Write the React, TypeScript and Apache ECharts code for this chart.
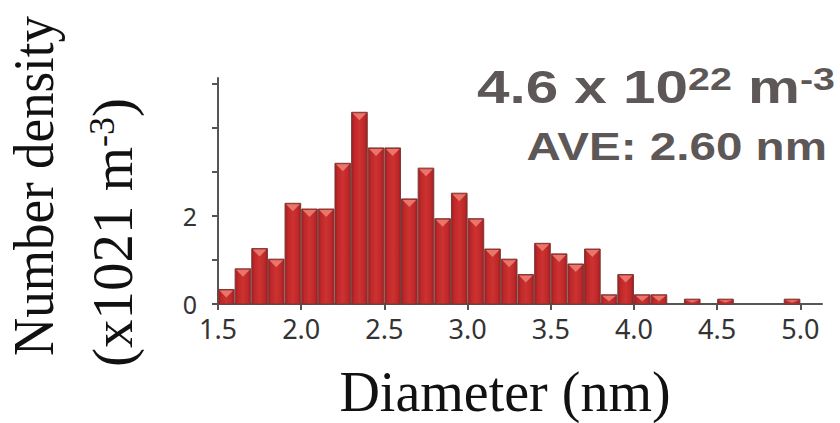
import React, { useEffect, useRef } from "react";
import * as echarts from "echarts";

// Histogram bins (left edge, nm) and number density (x10^21 m^-3)
const binStarts = [
  1.5, 1.6, 1.7, 1.8, 1.9, 2.0, 2.1, 2.2, 2.3, 2.4, 2.5, 2.6, 2.7, 2.8, 2.9,
  3.0, 3.1, 3.2, 3.3, 3.4, 3.5, 3.6, 3.7, 3.8, 3.9, 4.0, 4.1, 4.3, 4.5, 4.9,
];
const densities = [
  0.33, 0.8, 1.26, 1.02, 2.29, 2.16, 2.16, 3.2, 4.36, 3.55, 3.55, 2.39, 3.09,
  1.94, 2.52, 1.94, 1.25, 1.02, 0.67, 1.38, 1.14, 0.91, 1.25, 0.21, 0.67, 0.21,
  0.21, 0.11, 0.11, 0.11,
];
const binWidth = 0.1;
const xTicks = [1.5, 2.0, 2.5, 3.0, 3.5, 4.0, 4.5, 5.0];
const yTicks = [0, 1, 2, 3, 4, 5];
const yLabels = [0, 2];

const xName = "Diameter (nm)";
const yNameLine1 = "Number density";
const totalText = "{a|4.6 x 10}{s|22}{a| m}{s|-3}";
const aveText = "AVE: 2.60 nm";

export default function App() {
  const ref = useRef<HTMLDivElement>(null);
  useEffect(() => {
    if (!ref.current) return;
    const chart = echarts.init(ref.current, undefined, { renderer: "svg" });
    const data = binStarts.map((s, i) => [s, +(s + binWidth).toFixed(2), densities[i]]);
    const axisColor = "#555";
    const tickFont = "Noto Sans";
    const textGrey = "#5d5757";
    chart.setOption({
      animation: false,
      backgroundColor: "#fff",
      grid: { left: 218, right: 18, top: 78, bottom: 119 },
      xAxis: {
        type: "value",
        min: 1.5,
        max: 5.13,
        splitLine: { show: false },
        axisLine: { show: true, onZero: false, lineStyle: { color: axisColor, width: 2 } },
        axisTick: { show: true, length: 6, customValues: xTicks, lineStyle: { color: axisColor, width: 2 } },
        axisLabel: {
          customValues: xTicks,
          formatter: (v: number) => v.toFixed(1),
          fontSize: 27,
          fontFamily: tickFont,
          color: "#333",
          margin: 11,
        },
      },
      yAxis: {
        type: "value",
        min: 0,
        max: 5.14,
        splitLine: { show: false },
        axisLine: { show: true, lineStyle: { color: axisColor, width: 2 } },
        axisTick: { show: true, length: 6, customValues: yTicks, lineStyle: { color: axisColor, width: 2 } },
        axisLabel: {
          customValues: yLabels,
          formatter: (v: number) => String(v),
          fontSize: 25,
          fontFamily: tickFont,
          color: "#333",
          margin: 21,
        },
      },
      series: [
        {
          type: "custom",
          data,
          encode: { x: [0, 1], y: 2 },
          clip: false,
          renderItem: (params: any, api: any) => {
            const s = api.value(0);
            const e = api.value(1);
            const v = api.value(2);
            const p0 = api.coord([s, v]);
            const p1 = api.coord([e, 0]);
            const xL = p0[0];
            const xR = p1[0];
            const yT = p0[1];
            const yB = p1[1];
            const w = xR - xL;
            const h = yB - yT;
            const triH = Math.min(8, h * 0.7);
            return {
              type: "group",
              children: [
                {
                  type: "rect",
                  shape: { x: xL + 0.5, y: yT, width: w - 1, height: h },
                  style: {
                    fill: new echarts.graphic.LinearGradient(0, 0, 1, 0, [
                      { offset: 0, color: "#a01d1f" },
                      { offset: 0.18, color: "#bf282a" },
                      { offset: 0.5, color: "#cc3230" },
                      { offset: 0.82, color: "#bf282a" },
                      { offset: 1, color: "#a01d1f" },
                    ]),
                    stroke: "#7a3a38",
                    lineWidth: 1,
                  },
                },
                {
                  type: "polygon",
                  shape: {
                    points: [
                      [xL + 1.5, yT + 1],
                      [xR - 1.5, yT + 1],
                      [(xL + xR) / 2, yT + triH],
                    ],
                  },
                  style: { fill: "#e8766a" },
                },
              ],
            };
          },
        },
      ],
      graphic: [
        {
          type: "text",
          x: 835,
          y: 64,
          scaleX: 1.27,
          style: {
            text: totalText,
            align: "right",
            verticalAlign: "top",
            fill: textGrey,
            rich: {
              a: { fontSize: 46, fontWeight: "bold", fontFamily: "Liberation Sans", color: textGrey },
              s: { fontSize: 31, fontWeight: "bold", fontFamily: "Liberation Sans", color: textGrey, verticalAlign: "top" },
            },
          },
        },
        {
          type: "text",
          x: 827,
          y: 127,
          scaleX: 1.22,
          style: {
            text: aveText,
            align: "right",
            verticalAlign: "top",
            fill: textGrey,
            fontSize: 39,
            fontWeight: "bold",
            fontFamily: "Liberation Sans",
          },
        },
        {
          type: "text",
          x: 34,
          y: 356,
          rotation: Math.PI / 2,
          scaleX: 0.93,
          style: {
            text: yNameLine1,
            align: "left",
            verticalAlign: "middle",
            fill: "#111",
            fontSize: 57,
            fontFamily: "Liberation Serif",
          },
        },
        {
          type: "text",
          x: 112,
          y: 367,
          rotation: Math.PI / 2,
          style: {
            text: "{a|(x1021 m}{s|-3}{a|)}",
            align: "left",
            verticalAlign: "middle",
            fill: "#111",
            rich: {
              a: { fontSize: 57, fontFamily: "Liberation Serif", color: "#111" },
              s: { fontSize: 36, fontFamily: "Liberation Serif", color: "#111", verticalAlign: "top" },
            },
          },
        },
        {
          type: "text",
          x: 505,
          y: 392,
          style: {
            text: xName,
            align: "center",
            verticalAlign: "middle",
            fill: "#111",
            fontSize: 56,
            fontFamily: "Liberation Serif",
          },
        },
      ],
    });
    return () => chart.dispose();
  }, []);
  return (
    <div
      ref={ref}
      style={{ position: "fixed", left: 0, top: 0, width: 840, height: 423 }}
    />
  );
}
